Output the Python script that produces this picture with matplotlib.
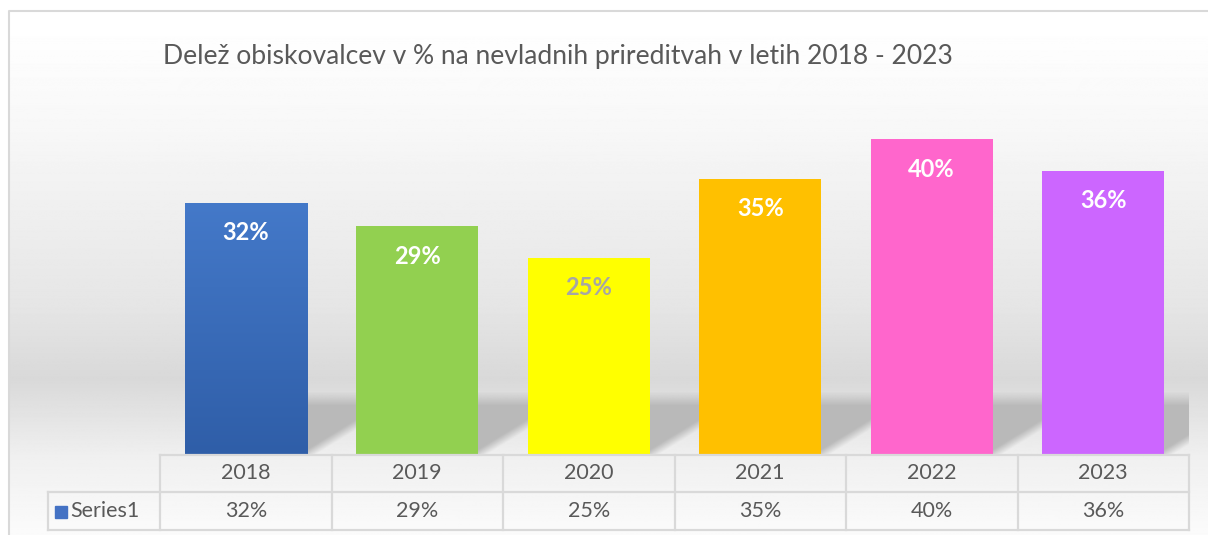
import numpy as np
import matplotlib
matplotlib.use("Agg")
import matplotlib.pyplot as plt
from matplotlib.colors import to_rgb

plt.rcParams['font.family'] = ['Lato', 'DejaVu Sans']

# data
years = ['2018', '2019', '2020', '2021', '2022', '2023']
values = [32, 29, 25, 35, 40, 36]
bar_colors = ['#4472c4', '#92d050', '#ffff00', '#ffc000', '#ff66cc', '#cc66ff']
label_colors = ['white', 'white', '#a6a6a6', 'white', 'white', 'white']
series_name = 'Series1'
title = 'Delež obiskovalcev v % na nevladnih prireditvah v letih 2018 - 2023'

W, H = 1208, 535
fig = plt.figure(figsize=(W / 100, H / 100), dpi=100)

# chart area background (vertical grey gradient)
bg = fig.add_axes([0, 0, 1, 1], zorder=-1)
stops_y = [11, 120, 300, 375, 455, 535]
stops_v = [1.0, 0.97, 0.90, 0.85, 0.94, 0.985]
yy = np.arange(H)
vals = np.interp(yy, stops_y, stops_v)
grad = np.repeat(vals[:, None], 4, axis=1)
bg.imshow(grad, cmap='gray', vmin=0, vmax=1, extent=(9, W, H, 11), aspect='auto')
bg.plot([9, 9, W], [H, 11, 11], color='#d9d9d9', lw=1.5)
bg.set_xlim(0, W)
bg.set_ylim(H, 0)
bg.axis('off')

# plot area
ax = fig.add_axes([160 / W, 80 / H, 1029 / W, 355 / H])
ax.patch.set_alpha(0)
for s in ax.spines.values():
    s.set_visible(False)
ax.set_xticks([])
ax.set_yticks([])

x = np.arange(len(years))
width = 0.714
bars = ax.bar(x, values, width=width, color=bar_colors, zorder=3)

# first bar has a slight vertical gradient
top_c = np.array(to_rgb('#4479c9'))
bot_c = np.array(to_rgb('#2f5ea8'))
t = np.linspace(0, 1, 100)[:, None]
g = (top_c * (1 - t) + bot_c * t)[:, None, :]
im = ax.imshow(g, extent=(x[0] - width / 2, x[0] + width / 2, 0, values[0]),
               aspect='auto', zorder=3.5)
im.set_clip_path(bars[0])

# floor shadow behind each bar (to the right)
sh_h = 8.5
sw, shh = 49, 67
cc, rr = np.meshgrid(np.arange(sw), np.arange(shh))
ypx = 388 + rr
dark = np.clip((ypx - 392) / 14.0, 0, 1)
edge = 452 - 0.62 * cc
light = np.clip((ypx - edge) / 10.0 + 0.3, 0, 1)
alpha = dark * (1 - light) * 0.95
rgba = np.zeros((shh, sw, 4))
rgba[..., :3] = 0.72
rgba[..., 3] = alpha
for i in x:
    x0 = i + width / 2
    ax.imshow(rgba, extent=(x0, x0 + 1 - width, 0, sh_h), aspect='auto', zorder=2)
ax.set_xlim(-0.5, 5.5)
ax.set_ylim(0, 45)

# data labels
for i, v in enumerate(values):
    ax.annotate(f'{v}%', (x[i], v), xytext=(0, -21.5), textcoords='offset points',
                ha='center', va='center', fontsize=17, fontweight='bold',
                color=label_colors[i], zorder=5)

# title
fig.text(163 / W, 1 - 57 / H, title, fontsize=19.1, color='#595959',
         ha='left', va='center')

# data table below the plot area
tr = ax.get_xaxis_transform()
line_kw = dict(color='#d9d9d9', lw=1.6, transform=tr, clip_on=False, zorder=4)
y_top, y_mid, y_bot = 0.0, -37 / 355, -75 / 355
left_cell = -0.5 + (48 - 160) / 171.5
ax.plot([-0.5, 5.5], [y_top, y_top], **line_kw)
ax.plot([left_cell, 5.5], [y_mid, y_mid], **line_kw)
ax.plot([left_cell, 5.5], [y_bot, y_bot], **line_kw)
ax.plot([left_cell, left_cell], [y_mid, y_bot], **line_kw)
for b in np.arange(-0.5, 6.0, 1.0):
    ax.plot([b, b], [y_top, y_bot], **line_kw)

row1 = -18 / 355
row2 = -56 / 355
for i in x:
    ax.text(i, row1, years[i], transform=tr, ha='center', va='center',
            fontsize=15.5, color='#595959')
    ax.text(i, row2, f'{values[i]}%', transform=tr, ha='center', va='center',
            fontsize=15.5, color='#595959')

# legend key inside the table
fig.patches.append(plt.Rectangle((55 / W, 1 - 518 / H), 12 / W, 12 / H,
                                 transform=fig.transFigure, color='#4472c4'))
fig.text(70 / W, 1 - 511 / H, series_name, fontsize=15.5, color='#595959',
         ha='left', va='center')

fig.savefig('out.png', dpi=100)
